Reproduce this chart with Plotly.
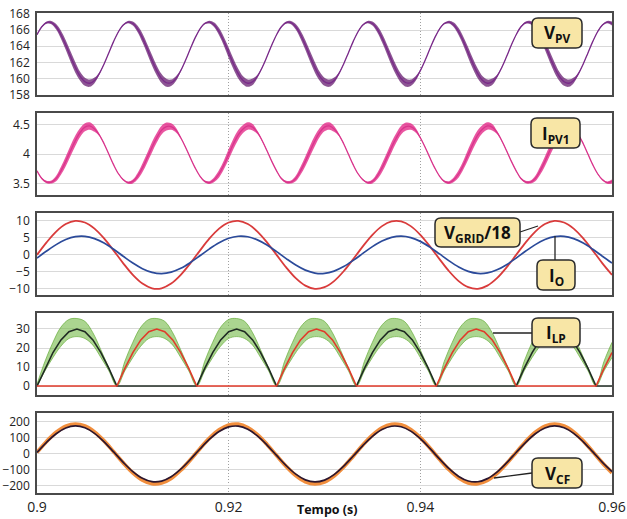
import numpy as np
import plotly.graph_objects as go
from plotly.subplots import make_subplots

# ---------------- data ----------------
x_ticks = [0.9, 0.92, 0.94, 0.96]
x_tick_labels = ["0.9", "0.92", "0.94", "0.96"]

# 0.5 ms sampling, 0.90 .. 0.96 s (121 samples)
t_fast = np.linspace(0.9, 0.96, 121)
# 1 ms sampling (61 samples)
t_slow = np.linspace(0.9, 0.96, 61)
# 1/1200 s sampling (73 samples) for the rectified inductor currents
t_ilp = np.linspace(0.9, 0.96, 73)

v_pv = [165.43, 166.41, 166.93, 166.93, 166.41, 165.43, 164.15, 162.72, 161.37, 160.27,
        159.59, 159.41, 159.76, 160.60, 161.80, 163.20, 164.60, 165.80, 166.64, 166.99,
        166.81, 166.13, 165.03, 163.68, 162.25, 160.97, 159.99, 159.47, 159.47, 159.99,
        160.97, 162.25, 163.68, 165.03, 166.13, 166.81, 166.99, 166.64, 165.80, 164.60,
        163.20, 161.80, 160.60, 159.76, 159.41, 159.59, 160.27, 161.37, 162.72, 164.15,
        165.43, 166.41, 166.93, 166.93, 166.41, 165.43, 164.15, 162.72, 161.37, 160.27,
        159.59, 159.41, 159.76, 160.60, 161.80, 163.20, 164.60, 165.80, 166.64, 166.99,
        166.81, 166.13, 165.03, 163.68, 162.25, 160.97, 159.99, 159.47, 159.47, 159.99,
        160.97, 162.25, 163.68, 165.03, 166.13, 166.81, 166.99, 166.64, 165.80, 164.60,
        163.20, 161.80, 160.60, 159.76, 159.41, 159.59, 160.27, 161.37, 162.72, 164.15,
        165.43, 166.41, 166.93, 166.93, 166.41, 165.43, 164.15, 162.72, 161.37, 160.27,
        159.59, 159.41, 159.76, 160.60, 161.80, 163.20, 164.60, 165.80, 166.64, 166.99,
        166.81]
v_pv_ripple = [0.05, 0.08, 0.15, 0.2, 0.35, 0.5, 0.6, 0.65, 0.65, 0.55,
               0.5, 0.45, 0.35, 0.15, 0.05, 0.05, 0.05, 0.05, 0.08, 0.15,
               0.25, 0.4, 0.55, 0.6, 0.65, 0.6, 0.55, 0.5, 0.4, 0.3,
               0.1, 0.05, 0.05, 0.05, 0.05, 0.1, 0.18, 0.3, 0.45, 0.55,
               0.65, 0.65, 0.6, 0.5, 0.45, 0.4, 0.2, 0.08, 0.05, 0.05,
               0.05, 0.08, 0.15, 0.2, 0.35, 0.5, 0.6, 0.65, 0.65, 0.55,
               0.5, 0.45, 0.35, 0.15, 0.05, 0.05, 0.05, 0.05, 0.08, 0.15,
               0.25, 0.4, 0.55, 0.6, 0.65, 0.6, 0.55, 0.5, 0.4, 0.3,
               0.1, 0.05, 0.05, 0.05, 0.05, 0.1, 0.18, 0.3, 0.45, 0.55,
               0.65, 0.65, 0.6, 0.5, 0.45, 0.4, 0.2, 0.08, 0.05, 0.05,
               0.05, 0.08, 0.15, 0.2, 0.35, 0.5, 0.6, 0.65, 0.65, 0.55,
               0.5, 0.45, 0.35, 0.15, 0.05, 0.05, 0.05, 0.05, 0.08, 0.15,
               0.25]

i_pv1 = [3.72, 3.59, 3.53, 3.53, 3.59, 3.72, 3.88, 4.06, 4.23, 4.37,
         4.46, 4.48, 4.43, 4.33, 4.18, 4.00, 3.82, 3.67, 3.57, 3.52,
         3.54, 3.63, 3.77, 3.94, 4.12, 4.28, 4.41, 4.47, 4.47, 4.41,
         4.28, 4.12, 3.94, 3.77, 3.63, 3.54, 3.52, 3.57, 3.67, 3.82,
         4.00, 4.18, 4.33, 4.43, 4.48, 4.46, 4.37, 4.23, 4.06, 3.88,
         3.72, 3.59, 3.53, 3.53, 3.59, 3.72, 3.88, 4.06, 4.23, 4.37,
         4.46, 4.48, 4.43, 4.33, 4.18, 4.00, 3.82, 3.67, 3.57, 3.52,
         3.54, 3.63, 3.77, 3.94, 4.12, 4.28, 4.41, 4.47, 4.47, 4.41,
         4.28, 4.12, 3.94, 3.77, 3.63, 3.54, 3.52, 3.57, 3.67, 3.82,
         4.00, 4.18, 4.33, 4.43, 4.48, 4.46, 4.37, 4.23, 4.06, 3.88,
         3.72, 3.59, 3.53, 3.53, 3.59, 3.72, 3.88, 4.06, 4.23, 4.37,
         4.46, 4.48, 4.43, 4.33, 4.18, 4.00, 3.82, 3.67, 3.57, 3.52,
         3.54]
i_pv1_ripple = [0.007, 0.011, 0.02, 0.027, 0.048, 0.068, 0.082, 0.089, 0.089, 0.075,
                0.068, 0.062, 0.048, 0.02, 0.007, 0.007, 0.007, 0.007, 0.011, 0.02,
                0.034, 0.055, 0.075, 0.082, 0.089, 0.082, 0.075, 0.068, 0.055, 0.041,
                0.014, 0.007, 0.007, 0.007, 0.007, 0.014, 0.025, 0.041, 0.062, 0.075,
                0.089, 0.089, 0.082, 0.068, 0.062, 0.055, 0.027, 0.011, 0.007, 0.007,
                0.007, 0.011, 0.02, 0.027, 0.048, 0.068, 0.082, 0.089, 0.089, 0.075,
                0.068, 0.062, 0.048, 0.02, 0.007, 0.007, 0.007, 0.007, 0.011, 0.02,
                0.034, 0.055, 0.075, 0.082, 0.089, 0.082, 0.075, 0.068, 0.055, 0.041,
                0.014, 0.007, 0.007, 0.007, 0.007, 0.014, 0.025, 0.041, 0.062, 0.075,
                0.089, 0.089, 0.082, 0.068, 0.062, 0.055, 0.027, 0.011, 0.007, 0.007,
                0.007, 0.011, 0.02, 0.027, 0.048, 0.068, 0.082, 0.089, 0.089, 0.075,
                0.068, 0.062, 0.048, 0.02, 0.007, 0.007, 0.007, 0.007, 0.011, 0.02,
                0.034]

v_grid_18 = [0, 3.68, 6.85, 9.05, 9.98, 9.51, 7.71, 4.82, 1.25, -2.49,
             -5.88, -8.44, -9.82, -9.82, -8.44, -5.88, -2.49, 1.25, 4.82, 7.71,
             9.51, 9.98, 9.05, 6.85, 3.68, 0, -3.68, -6.85, -9.05, -9.98,
             -9.51, -7.71, -4.82, -1.25, 2.49, 5.88, 8.44, 9.82, 9.82, 8.44,
             5.88, 2.49, -1.25, -4.82, -7.71, -9.51, -9.98, -9.05, -6.85, -3.68,
             0, 3.68, 6.85, 9.05, 9.98, 9.51, 7.71, 4.82, 1.25, -2.49,
             -5.88]
i_o = [-0.95, 1.11, 3.01, 4.49, 5.35, 5.45, 4.78, 3.45, 1.63, -0.42,
       -2.41, -4.06, -5.14, -5.50, -5.08, -3.96, -2.27, -0.27, 1.77, 3.56,
       4.86, 5.47, 5.31, 4.40, 2.88, 0.95, -1.11, -3.01, -4.49, -5.35,
       -5.45, -4.78, -3.45, -1.63, 0.42, 2.41, 4.06, 5.14, 5.50, 5.08,
       3.96, 2.27, 0.27, -1.77, -3.56, -4.86, -5.47, -5.31, -4.40, -2.88,
       -0.95, 1.11, 3.01, 4.49, 5.35, 5.45, 4.78, 3.45, 1.63, -0.42,
       -2.41]

i_lp_a = [0, 9.27, 17.63, 24.27, 28.53, 30, 28.53, 24.27, 17.63, 9.27,
          0, 0, 0, 0, 0, 0, 0, 0, 0, 0,
          0, 9.27, 17.63, 24.27, 28.53, 30, 28.53, 24.27, 17.63, 9.27,
          0, 0, 0, 0, 0, 0, 0, 0, 0, 0,
          0, 9.27, 17.63, 24.27, 28.53, 30, 28.53, 24.27, 17.63, 9.27,
          0, 0, 0, 0, 0, 0, 0, 0, 0, 0,
          0, 9.27, 17.63, 24.27, 28.53, 30, 28.53, 24.27, 17.63, 9.27,
          0, 0, 0]
i_lp_b = [0, 0, 0, 0, 0, 0, 0, 0, 0, 0,
          0, 9.27, 17.63, 24.27, 28.53, 30, 28.53, 24.27, 17.63, 9.27,
          0, 0, 0, 0, 0, 0, 0, 0, 0, 0,
          0, 9.27, 17.63, 24.27, 28.53, 30, 28.53, 24.27, 17.63, 9.27,
          0, 0, 0, 0, 0, 0, 0, 0, 0, 0,
          0, 9.27, 17.63, 24.27, 28.53, 30, 28.53, 24.27, 17.63, 9.27,
          0, 0, 0, 0, 0, 0, 0, 0, 0, 0,
          0, 9.27, 17.63]
i_lp_hi = [1, 13, 23, 31, 35, 35.5, 34, 28, 19, 9.5,
           0.5, 13, 23, 31, 35, 35.5, 34, 28, 19, 9.5,
           0.5, 13, 23, 31, 35, 35.5, 34, 28, 19, 9.5,
           0.5, 13, 23, 31, 35, 35.5, 34, 28, 19, 9.5,
           0.5, 13, 23, 31, 35, 35.5, 34, 28, 19, 9.5,
           0.5, 13, 23, 31, 35, 35.5, 34, 28, 19, 9.5,
           0.5, 13, 23, 31, 35, 35.5, 34, 28, 19, 9.5,
           0.5, 13, 23]
i_lp_lo = [0, 8, 15, 21, 25, 26, 25, 21.5, 15, 8,
           0, 8, 15, 21, 25, 26, 25, 21.5, 15, 8,
           0, 8, 15, 21, 25, 26, 25, 21.5, 15, 8,
           0, 8, 15, 21, 25, 26, 25, 21.5, 15, 8,
           0, 8, 15, 21, 25, 26, 25, 21.5, 15, 8,
           0, 8, 15, 21, 25, 26, 25, 21.5, 15, 8,
           0, 8, 15, 21, 25, 26, 25, 21.5, 15, 8,
           0, 8, 15]

v_cf = [9.2, 72.9, 126.3, 162.0, 175.0, 163.4, 128.8, 76.2, 12.8, -52.3,
        -110.1, -152.5, -173.4, -169.9, -142.6, -95.3, -34.6, 31.0, 92.2, 140.5,
        169.0, 173.8, 154.2, 113.0, 55.8, -9.2, -72.9, -126.3, -162.0, -175.0,
        -163.4, -128.8, -76.2, -12.8, 52.3, 110.1, 152.5, 173.4, 169.9, 142.6,
        95.3, 34.6, -31.0, -92.2, -140.5, -169.0, -173.8, -154.2, -113.0, -55.8,
        9.2, 72.9, 126.3, 162.0, 175.0, 163.4, 128.8, 76.2, 12.8, -52.3,
        -110.1]
v_cf_switching = [9.8, 77.9, 135.0, 173.1, 187.0, 174.6, 137.6, 81.4, 13.7, -55.9,
                  -117.7, -163.0, -185.3, -181.6, -152.4, -101.8, -37.0, 33.1, 98.5, 150.1,
                  180.6, 185.7, 164.8, 120.8, 59.6, -9.8, -77.9, -135.0, -173.1, -187.0,
                  -174.6, -137.6, -81.4, -13.7, 55.9, 117.7, 163.0, 185.3, 181.6, 152.4,
                  101.8, 37.0, -33.1, -98.5, -150.1, -180.6, -185.7, -164.8, -120.8, -59.6,
                  9.8, 77.9, 135.0, 173.1, 187.0, 174.6, 137.6, 81.4, 13.7, -55.9,
                  -117.7]

y_ranges = [[157.95, 168.12], [3.31, 4.70], [-11.8, 12.3], [-4.7, 38.4], [-244, 256]]
y_ticks = [[158, 160, 162, 164, 166, 168], [3.5, 4, 4.5], [-10, -5, 0, 5, 10],
           [0, 10, 20, 30], [-200, -100, 0, 100, 200]]

# ---------------- figure ----------------
W, H = 627, 519
ML, MR, MT, MB = 37, 15, 13, 26
PW, PH = W - ML - MR, H - MT - MB

def px(x):
    return (x - ML) / PW

def py(y):
    return (H - MB - y) / PH

fig = make_subplots(rows=5, cols=1, shared_xaxes=True)

def band(row, t, center, half, color):
    lo = np.array(center) - np.array(half)
    hi = np.array(center) + np.array(half)
    fig.add_trace(go.Scatter(x=t, y=lo, mode="lines", line=dict(width=0, shape="spline"),
                             hoverinfo="skip", showlegend=False), row=row, col=1)
    fig.add_trace(go.Scatter(x=t, y=hi, mode="lines", line=dict(width=0, shape="spline"),
                             fill="tonexty", fillcolor=color, hoverinfo="skip",
                             showlegend=False), row=row, col=1)

# Panel 1: V_PV
band(1, t_fast, v_pv, v_pv_ripple, "rgba(95,20,105,0.72)")
fig.add_trace(go.Scatter(x=t_fast, y=v_pv, mode="lines",
                         line=dict(color="#7a2a8a", width=1.3, shape="spline"),
                         name="V_PV"), row=1, col=1)
# Panel 2: I_PV1
band(2, t_fast, i_pv1, i_pv1_ripple, "rgba(225,30,130,0.75)")
fig.add_trace(go.Scatter(x=t_fast, y=i_pv1, mode="lines",
                         line=dict(color="#d8358c", width=1.3, shape="spline"),
                         name="I_PV1"), row=2, col=1)
# Panel 3: V_GRID/18 and I_O
fig.add_trace(go.Scatter(x=t_slow, y=v_grid_18, mode="lines",
                         line=dict(color="#d93b3b", width=1.8, shape="spline"),
                         name="V_GRID/18"), row=3, col=1)
fig.add_trace(go.Scatter(x=t_slow, y=i_o, mode="lines",
                         line=dict(color="#2b4a9a", width=1.7, shape="spline"),
                         name="I_O"), row=3, col=1)
# Panel 4: I_LP
fig.add_trace(go.Scatter(x=t_ilp, y=i_lp_lo, mode="lines",
                         line=dict(width=0.8, color="rgba(100,170,55,0.85)", shape="spline"),
                         hoverinfo="skip", showlegend=False), row=4, col=1)
fig.add_trace(go.Scatter(x=t_ilp, y=i_lp_hi, mode="lines",
                         line=dict(width=0.8, color="rgba(100,170,55,0.85)", shape="spline"),
                         fill="tonexty", fillcolor="rgba(115,185,70,0.6)",
                         hoverinfo="skip", showlegend=False), row=4, col=1)
fig.add_trace(go.Scatter(x=t_ilp, y=i_lp_a, mode="lines",
                         line=dict(color="#1f2a22", width=1.6), name="I_LP a"), row=4, col=1)
fig.add_trace(go.Scatter(x=t_ilp, y=i_lp_b, mode="lines",
                         line=dict(color="#e03a2a", width=1.6), name="I_LP b"), row=4, col=1)
# Panel 5: V_CF
fig.add_trace(go.Scatter(x=t_slow, y=v_cf_switching, mode="lines",
                         line=dict(color="rgba(240,130,40,0.9)", width=3.8, shape="spline"),
                         name="V_CF switching"), row=5, col=1)
fig.add_trace(go.Scatter(x=t_slow, y=v_cf, mode="lines",
                         line=dict(color="#2a1630", width=1.7, shape="spline"),
                         name="V_CF"), row=5, col=1)

# panel domains (pixel rows of the reference frames)
panel_px = [(13, 95), (113, 195), (213, 295), (313, 395), (413, 493)]
for i, (top, bot) in enumerate(panel_px):
    r = i + 1
    fig.update_yaxes(row=r, col=1, domain=[py(bot), py(top)], range=y_ranges[i],
                     tickvals=y_ticks[i], showgrid=True, gridcolor="#d9d9d9",
                     gridwidth=1, zeroline=False, showline=True, automargin=False,
                     linecolor="#4a4a4a", linewidth=1.5, mirror=True, ticks="",
                     ticklabelstandoff=3,
                     tickfont=dict(family="Open Sans", size=12, color="#222"))
    fig.update_xaxes(row=r, col=1, range=[0.9, 0.96], tickvals=x_ticks,
                     ticktext=x_tick_labels, showgrid=True, gridcolor="#a0a0a0",
                     griddash="1px,2px", gridwidth=1, zeroline=False, showline=True,
                     linecolor="#4a4a4a", linewidth=1.5, mirror=True, ticks="",
                     automargin=False, showticklabels=(r == 5),
                     tickfont=dict(family="Open Sans", size=14, color="#222"))

# ---------------- label boxes ----------------
def rbox(x0, y0, x1, y1, r=6):
    pts = [
        ("M", x0 + r, y0), ("L", x1 - r, y0), ("Q", x1, y0, x1, y0 + r),
        ("L", x1, y1 - r), ("Q", x1, y1, x1 - r, y1), ("L", x0 + r, y1),
        ("Q", x0, y1, x0, y1 - r), ("L", x0, y0 + r), ("Q", x0, y0, x0 + r, y0),
    ]
    s = ""
    for p in pts:
        if p[0] == "Q":
            s += "Q {:.5f},{:.5f} {:.5f},{:.5f} ".format(px(p[1]), py(p[2]), px(p[3]), py(p[4]))
        else:
            s += "{} {:.5f},{:.5f} ".format(p[0], px(p[1]), py(p[2]))
    return s + "Z"

leaders = [((520, 232), (538, 226)), ((555, 236), (555, 260)),
           ((493, 333), (532, 333)), ((494, 478), (532, 473))]
for (a, b) in leaders:
    fig.add_shape(type="line", xref="paper", yref="paper", x0=px(a[0]), y0=py(a[1]),
                  x1=px(b[0]), y1=py(b[1]), line=dict(color="#222", width=1.3))

labels = [
    ((532, 18, 582, 48), "<b>V<sub>PV</sub></b>"),
    ((531, 118, 580, 148), "<b>I<sub>PV1</sub></b>"),
    ((435, 218, 520, 247), "<b>V<sub>GRID</sub>/18</b>"),
    ((537, 260, 575, 290), "<b>I<sub>O</sub></b>"),
    ((532, 318, 580, 347), "<b>I<sub>LP</sub></b>"),
    ((532, 458, 582, 488), "<b>V<sub>CF</sub></b>"),
]
for (x0, y0, x1, y1), txt in labels:
    fig.add_shape(type="path", xref="paper", yref="paper", path=rbox(x0, y0, x1, y1),
                  fillcolor="#f8e6a6", line=dict(color="#2a2a2a", width=1.5), layer="above")
    fig.add_annotation(xref="paper", yref="paper", x=px((x0 + x1) / 2), y=py((y0 + y1) / 2 + 1),
                       text=txt, showarrow=False, xanchor="center", yanchor="middle",
                       font=dict(family="Open Sans", size=17, color="#111"))

fig.add_annotation(xref="paper", yref="paper", x=px(327), y=py(519), text="<b>Tempo (s)</b>",
                   showarrow=False, xanchor="center", yanchor="bottom", borderpad=0,
                   font=dict(family="Open Sans", size=12.5, color="#111"))

fig.update_layout(width=W, height=H, margin=dict(l=ML, r=MR, t=MT, b=MB, autoexpand=False),
                  paper_bgcolor="white", plot_bgcolor="white", showlegend=False)

fig.write_html("out.html")
